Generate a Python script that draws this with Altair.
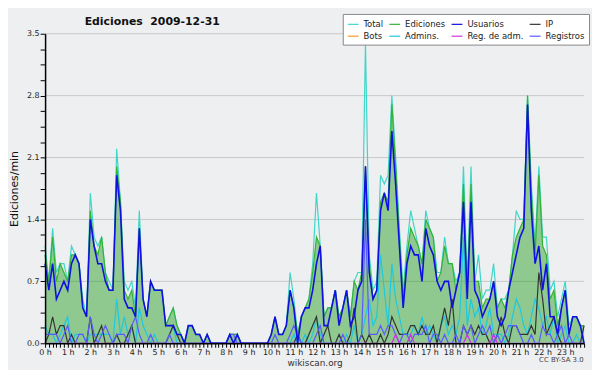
import altair as alt
import pandas as pd

# 10-minute slots (0 .. 143) expressed in hours
slots = list(range(144))
hours = [s / 6 for s in slots]

chart_title = ["Ediciones\u00a0\u00a02009-12-31"]
license_text = ["CC BY-SA 3.0"]

series_names = ["Total", "Ediciones", "Usuarios", "IP", "Bots", "Admins.", "Reg. de adm.", "Registros"]
series_colors = ["#3fd6c9", "#33b333", "#1010e0", "#333333", "#ff9933", "#1ec8e0", "#d030e0", "#5a5aff"]

total = [1.1, 0.7, 1.3, 0.8, 0.9, 0.9, 0.7, 1.1, 1.0, 0.9, 0.5, 0.3, 1.7, 1.2, 1.1, 1.2, 0.8, 0.7, 0.6, 2.2,
         1.6, 0.7, 0.6, 0.7, 0.4, 1.5, 0.5, 0.3, 0.7, 0.6, 0.6, 0.6, 0.2, 0.3, 0.4, 0.2, 0.1, 0.0, 0.2, 0.2,
         0.1, 0.1, 0.0, 0.1, 0.0, 0.0, 0.0, 0.0, 0.0, 0.1, 0.1, 0.1, 0.0, 0.0, 0.0, 0.0, 0.0, 0.0, 0.0, 0.0,
         0.1, 0.3, 0.1, 0.1, 0.2, 0.8, 0.5, 0.1, 0.3, 0.4, 0.5, 0.9, 1.7, 1.1, 0.3, 0.4, 0.4, 0.6, 0.3, 0.4,
         0.6, 0.3, 0.7, 0.8, 0.8, 3.4, 1.0, 0.6, 0.7, 1.9, 1.8, 1.9, 2.8, 2.1, 1.3, 0.6, 1.1, 1.5, 1.3, 1.1,
         0.9, 1.5, 1.3, 1.2, 0.8, 0.8, 1.2, 0.9, 0.9, 0.7, 0.8, 2.0, 0.7, 2.0, 0.7, 1.0, 0.5, 0.6, 0.6, 0.9,
         0.4, 0.5, 0.5, 0.6, 1.0, 1.5, 1.4, 1.4, 2.8, 1.8, 1.1, 2.0, 1.2, 1.2, 0.6, 0.7, 0.3, 0.5, 0.7, 0.2,
         0.3, 0.3, 0.2, 0.2]

ediciones = [1.0, 0.7, 1.2, 0.7, 0.9, 0.8, 0.7, 1.0, 1.0, 0.9, 0.4, 0.3, 1.5, 1.1, 1.0, 1.2, 0.8, 0.6, 0.6, 2.0,
             1.6, 0.6, 0.5, 0.6, 0.3, 1.3, 0.5, 0.3, 0.7, 0.6, 0.6, 0.6, 0.2, 0.3, 0.4, 0.2, 0.1, 0.0, 0.2, 0.2,
             0.1, 0.1, 0.0, 0.1, 0.0, 0.0, 0.0, 0.0, 0.0, 0.1, 0.1, 0.1, 0.0, 0.0, 0.0, 0.0, 0.0, 0.0, 0.0, 0.0,
             0.1, 0.3, 0.1, 0.1, 0.2, 0.6, 0.4, 0.1, 0.3, 0.4, 0.5, 0.8, 1.2, 1.1, 0.3, 0.4, 0.4, 0.6, 0.3, 0.4,
             0.6, 0.3, 0.7, 0.6, 0.8, 2.0, 0.9, 0.5, 0.6, 1.6, 1.7, 1.6, 2.7, 2.0, 1.2, 0.5, 1.0, 1.3, 1.2, 1.1,
             0.9, 1.4, 1.3, 1.2, 0.7, 0.8, 1.1, 0.9, 0.9, 0.6, 0.8, 1.8, 0.6, 1.8, 0.7, 0.7, 0.4, 0.5, 0.5, 0.7,
             0.4, 0.5, 0.4, 0.6, 1.0, 1.2, 1.3, 1.4, 2.8, 1.7, 1.0, 1.9, 1.1, 1.0, 0.5, 0.6, 0.2, 0.4, 0.6, 0.1,
             0.3, 0.3, 0.2, 0.2]

usuarios = [0.9, 0.6, 0.9, 0.5, 0.6, 0.7, 0.6, 0.9, 1.0, 0.9, 0.4, 0.3, 1.4, 1.1, 0.9, 0.9, 0.7, 0.6, 0.6, 1.9,
            1.5, 0.5, 0.4, 0.4, 0.3, 1.3, 0.5, 0.3, 0.7, 0.6, 0.6, 0.6, 0.2, 0.2, 0.2, 0.1, 0.1, 0.0, 0.2, 0.2,
            0.1, 0.1, 0.0, 0.1, 0.0, 0.0, 0.0, 0.0, 0.0, 0.1, 0.0, 0.1, 0.0, 0.0, 0.0, 0.0, 0.0, 0.0, 0.0, 0.0,
            0.1, 0.3, 0.1, 0.1, 0.2, 0.6, 0.4, 0.0, 0.3, 0.4, 0.4, 0.6, 0.9, 1.1, 0.2, 0.2, 0.4, 0.6, 0.2, 0.4,
            0.6, 0.2, 0.3, 0.6, 0.7, 2.0, 0.8, 0.5, 0.6, 1.5, 1.7, 1.5, 2.4, 1.8, 1.1, 0.4, 0.9, 1.1, 1.0, 1.0,
            0.7, 1.3, 1.1, 1.0, 0.7, 0.6, 0.7, 0.7, 0.4, 0.6, 0.8, 1.6, 0.5, 1.6, 0.6, 0.5, 0.3, 0.4, 0.5, 0.7,
            0.3, 0.2, 0.3, 0.6, 0.8, 1.0, 1.2, 1.3, 2.7, 1.5, 0.9, 1.1, 0.6, 0.9, 0.3, 0.3, 0.1, 0.4, 0.6, 0.1,
            0.3, 0.3, 0.2, 0.0]

ip = [0.0, 0.1, 0.3, 0.1, 0.2, 0.2, 0.0, 0.1, 0.0, 0.0, 0.0, 0.0, 0.3, 0.0, 0.1, 0.2, 0.0, 0.0, 0.0, 0.1,
      0.0, 0.0, 0.1, 0.2, 0.0, 0.0, 0.0, 0.0, 0.0, 0.0, 0.0, 0.0, 0.0, 0.1, 0.2, 0.1, 0.0, 0.0, 0.0, 0.0,
      0.0, 0.0, 0.0, 0.0, 0.0, 0.0, 0.0, 0.0, 0.0, 0.0, 0.0, 0.0, 0.0, 0.0, 0.0, 0.0, 0.0, 0.0, 0.0, 0.0,
      0.0, 0.0, 0.0, 0.0, 0.0, 0.0, 0.0, 0.1, 0.0, 0.0, 0.1, 0.2, 0.3, 0.0, 0.1, 0.2, 0.0, 0.0, 0.1, 0.0,
      0.0, 0.1, 0.4, 0.0, 0.1, 0.0, 0.1, 0.0, 0.0, 0.1, 0.0, 0.1, 0.3, 0.2, 0.1, 0.1, 0.1, 0.2, 0.2, 0.1,
      0.2, 0.1, 0.1, 0.2, 0.0, 0.2, 0.4, 0.2, 0.5, 0.0, 0.0, 0.2, 0.1, 0.2, 0.1, 0.2, 0.1, 0.1, 0.0, 0.0,
      0.1, 0.3, 0.1, 0.0, 0.2, 0.2, 0.1, 0.1, 0.1, 0.2, 0.1, 0.8, 0.5, 0.1, 0.2, 0.3, 0.1, 0.0, 0.0, 0.0,
      0.0, 0.0, 0.0, 0.2]

admins = [0.2, 0.1, 0.1, 0.0, 0.1, 0.2, 0.3, 0.0, 0.1, 0.1, 0.1, 0.0, 0.1, 0.1, 0.1, 0.1, 0.1, 0.1, 0.0, 0.5,
          0.1, 0.3, 0.1, 0.2, 0.0, 0.4, 0.2, 0.1, 0.0, 0.1, 0.0, 0.0, 0.0, 0.1, 0.2, 0.0, 0.0, 0.0, 0.0, 0.0,
          0.0, 0.0, 0.0, 0.0, 0.0, 0.0, 0.0, 0.0, 0.0, 0.0, 0.0, 0.0, 0.0, 0.0, 0.0, 0.0, 0.0, 0.0, 0.0, 0.0,
          0.0, 0.0, 0.0, 0.0, 0.0, 0.0, 0.1, 0.0, 0.0, 0.1, 0.0, 0.1, 0.3, 0.1, 0.0, 0.0, 0.0, 0.0, 0.0, 0.0,
          0.1, 0.0, 0.2, 0.0, 0.1, 0.3, 0.5, 0.2, 0.3, 1.0, 0.6, 0.2, 0.9, 0.5, 0.3, 0.1, 0.1, 0.1, 0.2, 0.1,
          0.3, 0.1, 0.2, 0.1, 0.0, 0.2, 0.3, 0.1, 0.2, 0.1, 0.3, 1.2, 0.2, 0.5, 0.3, 0.4, 0.1, 0.2, 0.4, 0.1,
          0.1, 0.1, 0.0, 0.1, 0.3, 0.5, 0.4, 0.2, 0.1, 0.3, 0.5, 0.4, 0.2, 0.3, 0.1, 0.3, 0.0, 0.1, 0.2, 0.0,
          0.0, 0.1, 0.0, 0.0]

registros = [0.1, 0.1, 0.1, 0.1, 0.0, 0.1, 0.2, 0.0, 0.0, 0.1, 0.1, 0.0, 0.3, 0.1, 0.0, 0.1, 0.2, 0.1, 0.0, 0.1,
             0.1, 0.1, 0.0, 0.2, 0.3, 0.1, 0.0, 0.0, 0.1, 0.0, 0.0, 0.0, 0.0, 0.1, 0.0, 0.0, 0.0, 0.0, 0.0, 0.0,
             0.0, 0.0, 0.0, 0.0, 0.0, 0.0, 0.0, 0.0, 0.0, 0.1, 0.1, 0.0, 0.0, 0.0, 0.0, 0.0, 0.0, 0.0, 0.0, 0.0,
             0.0, 0.1, 0.0, 0.0, 0.0, 0.1, 0.2, 0.1, 0.0, 0.0, 0.0, 0.0, 0.1, 0.2, 0.0, 0.0, 0.0, 0.0, 0.0, 0.1,
             0.0, 0.0, 0.0, 0.0, 0.1, 1.4, 0.1, 0.1, 0.1, 0.2, 0.1, 0.2, 0.2, 0.1, 0.0, 0.1, 0.1, 0.0, 0.1, 0.1,
             0.1, 0.2, 0.0, 0.1, 0.1, 0.0, 0.1, 0.0, 0.0, 0.1, 0.0, 0.2, 0.1, 0.2, 0.0, 0.1, 0.2, 0.1, 0.2, 0.0,
             0.1, 0.0, 0.1, 0.2, 0.2, 0.2, 0.1, 0.0, 0.0, 0.1, 0.0, 0.0, 0.2, 0.1, 0.1, 0.0, 0.1, 0.2, 0.0, 0.1,
             0.0, 0.0, 0.0, 0.0]

reg_adm = [0.0] * 93 + [0.1, 0.0, 0.0, 0.0, 0.1] + [0.0] * 14 + [0.1] + [0.0] * 6 + [0.1] + [0.0] * 24

y_ticks = [0.0, 0.175, 0.35, 0.525, 0.7, 0.875, 1.05, 1.225, 1.4, 1.575, 1.75, 1.925, 2.1,
           2.275, 2.45, 2.625, 2.8, 2.975, 3.15, 3.325, 3.5]
grid_values = [0.7, 1.4, 2.1, 2.8, 3.5]

values_by_series = {
    "Total": total, "Ediciones": ediciones, "Usuarios": usuarios, "IP": ip,
    "Admins.": admins, "Reg. de adm.": reg_adm, "Registros": registros,
}

rows = []
for name, vals in values_by_series.items():
    for h, v in zip(hours, vals):
        rows.append({"serie": name, "h": h, "v": v})
long_df = pd.DataFrame(rows)
area_df = pd.DataFrame({"h": hours, "v": ediciones})
grid_df = pd.DataFrame({"v": grid_values})

FONT = "DejaVu Sans"
NARROW = "'DejaVu Sans Condensed', 'Liberation Sans Narrow', 'Liberation Sans', sans-serif"

xscale = alt.Scale(domain=[0, 143 / 6], nice=False, zero=False)
yscale = alt.Scale(domain=[0, 3.5], nice=False)

x_axis = alt.Axis(values=hours,
                  labelExpr="datum.value % 1 < 0.001 ? datum.value + ' h' : ''",
                  labelOverlap=False, labelFlush=False, tickSize=4, tickColor="black",
                  domainColor="black", domainWidth=1.5, labelFontSize=8, labelPadding=1,
                  labelColor="#222", grid=False, titleFontSize=9, titleFontWeight="normal",
                  titlePadding=2, titleColor="#333", zindex=1)
y_axis = alt.Axis(values=y_ticks,
                  labelExpr="abs(datum.value/0.7 - round(datum.value/0.7)) < 0.01 ? format(datum.value, '.1f') : ''",
                  labelOverlap=False, tickSize=5, tickColor="black", domainColor="black",
                  domainWidth=1.5, labelFontSize=8, labelPadding=1, labelColor="#222", grid=False,
                  titleFontSize=11, titleFontWeight="normal", titlePadding=7, titleColor="#111",
                  zindex=1)

X = alt.X("h:Q", scale=xscale, axis=x_axis, title="wikiscan.org")
Y = alt.Y("v:Q", scale=yscale, axis=y_axis, title="Ediciones/min")

legend = alt.Legend(title=None, orient="none", legendX=301, legendY=-20, columns=4,
                    direction="horizontal",
                    symbolType="stroke", symbolSize=121, symbolStrokeWidth=1.2,
                    labelFontSize=9.5, labelFont=NARROW, labelColor="#222", fillColor="white",
                    strokeColor="#888", padding=4, rowPadding=1, columnPadding=3, labelOffset=4,
                    labelLimit=200)

color = alt.Color("serie:N", scale=alt.Scale(domain=series_names, range=series_colors), legend=legend)

grid = alt.Chart(grid_df).mark_rule(color="#c8c8c8", strokeWidth=1).encode(y=Y)

area = alt.Chart(area_df).mark_area(color="#009000", opacity=0.4).encode(x=X, y=Y)

draw_order = ["Total", "Ediciones", "Admins.", "IP", "Registros", "Reg. de adm.", "Usuarios"]
line_layers = []
for name in draw_order:
    sw = 1.6 if name == "Usuarios" else 1.2
    line_layers.append(
        alt.Chart(long_df).transform_filter(alt.datum.serie == name).mark_line(strokeWidth=sw).encode(
            x=X, y=Y, color=color))

title_mark = alt.Chart(pd.DataFrame({"t": chart_title})).mark_text(
    fontSize=11, fontWeight="bold", color="#111", align="left", baseline="middle", font=FONT).encode(
    text="t:N", x=alt.value(40), y=alt.value(-12))

cc = alt.Chart(pd.DataFrame({"t": license_text})).mark_text(
    fontSize=7, color="#444", align="center", baseline="middle", font=FONT).encode(
    text="t:N", x=alt.value(522), y=alt.value(330))

chart = alt.layer(grid, area, *line_layers, title_mark, cc).properties(
    width=545, height=313,
    autosize=alt.AutoSizeParams(type="none"),
    padding={"left": 37.5, "top": 24, "right": 8, "bottom": 25},
    background="#eeeff0",
).configure_view(stroke=None).configure_axis(labelFont=FONT, titleFont=FONT).configure_legend(
    labelFont=NARROW).configure_text(font=FONT)

chart.save("out.html", embed_options={"renderer": "svg", "actions": False})
